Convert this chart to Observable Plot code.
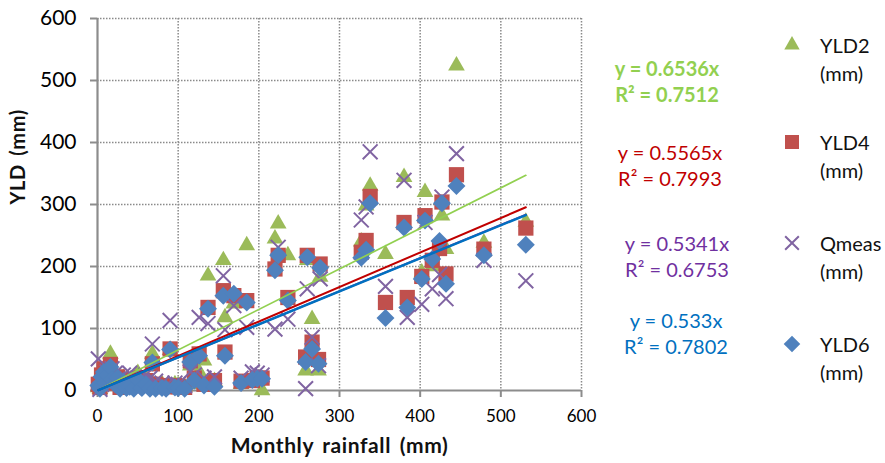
<!DOCTYPE html>
<html>
<head>
<meta charset="utf-8">
<script src="https://cdn.jsdelivr.net/npm/d3@7"></script>
<script src="https://cdn.jsdelivr.net/npm/@observablehq/plot@0.6"></script>
<style>
  body { margin: 0; background: #fff; }
  #chart { position: relative; width: 885px; height: 463px; font-family: Lato, "Open Sans", sans-serif; overflow: hidden; }
  #chart > svg { position: absolute; left: 0; top: 0; }
  .eq { position: absolute; transform: translateX(-50%); text-align: center; font-size: 20px; line-height: 26px; white-space: nowrap; }
  .leg { position: absolute; left: 820px; font-size: 20px; line-height: 28px; color: #111; white-space: nowrap; }
  .legsym { position: absolute; overflow: visible; }
</style>
</head>
<body>
<div id="chart"></div>
<script>
// Monthly rainfall (mm) and the matching monthly yields of each series (mm)
const rainfall = [1, 3, 5, 8, 10, 12, 16, 18, 22, 25, 28, 32, 36, 40, 45, 50, 55, 60, 65, 68, 72, 80, 85, 90, 96, 100, 108, 115, 120, 126, 132, 137, 145, 156, 158, 169, 178, 185, 192, 198, 204, 220, 224, 236, 258, 260, 266, 274, 276, 327, 333, 338, 357, 380, 384, 402, 406, 415, 424, 427, 432, 445, 479, 531];
const yld2 = [5, 2, 20, 32, 10, 28, 59, 25, 15, 22, 8, 20, 5, 12, 10, 28, 15, 20, 12, 59, 8, 10, 5, 65, 10, 8, 6, 40, 10, 30, 48, 185, 15, 210, 118, 140, 10, 234, 12, 15, 0, 245, 269, 218, 32, 210, 115, 32, 183, 240, 298, 330, 220, 344, 140, 190, 320, 200, 235, 282, 228, 524, 238, 272];
const yld4 = [10, 5, 25, 35, 15, 28, 42, 20, 12, 22, 5, 15, 8, 18, 8, 20, 12, 16, 10, 43, 10, 8, 6, 67, 8, 6, 5, 48, 20, 59, 10, 134, 16, 161, 62, 153, 15, 145, 16, 20, 20, 196, 218, 150, 54, 218, 78, 50, 204, 223, 242, 313, 142, 271, 150, 184, 282, 210, 229, 304, 188, 348, 228, 262];
const qmeas = [51, 2, 10, 15, 20, 30, 22, 35, 28, 18, 12, 25, 10, 28, 5, 15, 8, 25, 20, 75, 15, 12, 8, 113, 12, 10, 8, 30, 25, 118, 20, 108, 22, 185, 98, 137, 20, 102, 30, 28, 25, 99, 231, 115, 3, 164, 86, 40, 180, 275, 296, 385, 168, 339, 118, 139, 271, 164, 187, 312, 148, 382, 210, 177];
const yld6 = [8, 3, 22, 30, 12, 25, 38, 18, 10, 20, 3, 14, 4, 6, 3, 18, 4, 10, 3, 45, 3, 4, 3, 66, 5, 4, 3, 46, 16, 56, 8, 132, 6, 153, 56, 156, 12, 142, 17, 19, 19, 194, 218, 145, 46, 215, 67, 43, 198, 214, 227, 302, 117, 263, 134, 180, 274, 212, 241, 302, 172, 330, 218, 235];

// Series names, trend-line slopes (through the origin) and R² values
const seriesNames = ["YLD2", "YLD4", "Qmeas", "YLD6"];
const slopes = [0.6536, 0.5565, 0.5341, 0.533];
const rSquared = [0.7512, 0.7993, 0.6753, 0.7802];

// Axis ticks
const xTicks = [0, 100, 200, 300, 400, 500, 600];
const yTicks = [0, 100, 200, 300, 400, 500, 600];

const markerColors = ["#9BBB59", "#C0504D", "#8064A2", "#4F81BD"];
const trendColors = ["#92D050", "#C00000", "#7030A0", "#0070C0"];
const trendWidths = [1.7, 2, 2, 2.4];
const symbols = [d3.symbolTriangle, d3.symbolSquare, d3.symbolTimes, d3.symbolDiamond2];
const symbolR = [6.2, 8.6, 6.8, 8.1];

const rows = rainfall.map((rain, i) => ({rain, v0: yld2[i], v1: yld4[i], v2: qmeas[i], v3: yld6[i]}));

const xMin = d3.min(rainfall), xMax = d3.max(rainfall);
const trend = slopes.map(s => [{x: xMin, y: s * xMin}, {x: xMax, y: s * xMax}]);

const grid = {stroke: "#8a8a8a", strokeOpacity: 1, strokeWidth: 1.5, strokeDasharray: "1.5,1.5"};

// One dot layer per series, drawn in legend order
const dotMarks = seriesNames.map((name, k) => {
  const stroked = symbols[k] === d3.symbolTimes;
  return Plot.dot(rows, {
    x: "rain", y: "v" + k, symbol: () => symbols[k], r: symbolR[k],
    fill: stroked ? "none" : markerColors[k],
    stroke: stroked ? markerColors[k] : "none",
    strokeWidth: stroked ? 2 : 0
  });
});

// Linear trend lines through the origin
const lineMarks = trend.map((pts, k) =>
  Plot.line(pts, {x: "x", y: "y", stroke: trendColors[k], strokeWidth: trendWidths[k]})
);

const xTitle = "Monthly rainfall (mm)";
const yTitle = "YLD (mm)";

const plot = Plot.plot({
  width: 600,
  height: 463,
  marginLeft: 97,
  marginRight: 19,
  marginTop: 18,
  marginBottom: 73,
  style: {fontFamily: "Lato, 'Open Sans', sans-serif", background: "transparent", color: "#000"},
  x: {domain: [0, 600], label: null},
  y: {domain: [0, 600], label: null},
  symbol: {type: "identity"},
  marks: [
    Plot.gridX(xTicks.slice(1), grid),
    Plot.gridY(yTicks.slice(1), grid),
    Plot.axisY(yTicks, {tickSize: 7, tickPadding: 14, stroke: "#8c8c8c", strokeWidth: 2, fontSize: 21, label: null}),
    Plot.axisX(xTicks, {tickSize: 7, tickPadding: 12, stroke: "#8c8c8c", strokeWidth: 2, fontSize: 17, label: null}),
    Plot.ruleX([0], {stroke: "#8c8c8c", strokeWidth: 2.2}),
    Plot.ruleY([0], {stroke: "#8c8c8c", strokeWidth: 2.2}),
    ...dotMarks,
    ...lineMarks,
    Plot.text([yTitle], {frameAnchor: "left", rotate: -90, dx: -79, fontWeight: "bold", fontSize: 20, fill: "#111"}),
    Plot.text([xTitle], {frameAnchor: "bottom", dy: 62, fontWeight: "bold", fontSize: 21, fill: "#111"})
  ]
});

// Slightly looser tracking for the axis titles
d3.select(plot).selectAll("text")
  .filter(function () { return this.textContent === xTitle || this.textContent === yTitle; })
  .style("letter-spacing", "0.6px")
  .style("word-spacing", "3px");

const chart = document.getElementById("chart");
chart.appendChild(plot);

// Trend-line equations
const eqPos = [[667, 55, "bold"], [670, 139, "normal"], [677, 230, "normal"], [676, 307, "normal"]];
slopes.forEach((s, k) => {
  const div = document.createElement("div");
  div.className = "eq";
  div.style.left = eqPos[k][0] + "px";
  div.style.top = eqPos[k][1] + "px";
  div.style.color = trendColors[k];
  div.style.fontWeight = eqPos[k][2];
  div.innerHTML = `y = ${s}x<br>R² = ${rSquared[k]}`;
  chart.appendChild(div);
});

// Legend
const legY = [45, 142, 243, 344];
seriesNames.forEach((name, k) => {
  const ns = "http://www.w3.org/2000/svg";
  const svg = document.createElementNS(ns, "svg");
  svg.setAttribute("class", "legsym");
  svg.setAttribute("width", 20);
  svg.setAttribute("height", 20);
  svg.style.left = (792 - 10) + "px";
  svg.style.top = (legY[k] - 10) + "px";
  const path = document.createElementNS(ns, "path");
  path.setAttribute("transform", "translate(10,10)");
  path.setAttribute("d", d3.symbol(symbols[k], Math.PI * symbolR[k] * symbolR[k] * 0.85)());
  if (symbols[k] === d3.symbolTimes) {
    path.setAttribute("fill", "none");
    path.setAttribute("stroke", markerColors[k]);
    path.setAttribute("stroke-width", 2);
  } else {
    path.setAttribute("fill", markerColors[k]);
  }
  svg.appendChild(path);
  chart.appendChild(svg);

  const label = document.createElement("div");
  label.className = "leg";
  label.style.top = (legY[k] - 14) + "px";
  label.innerHTML = `${name}<br>(mm)`;
  chart.appendChild(label);
});
</script>
</body>
</html>
